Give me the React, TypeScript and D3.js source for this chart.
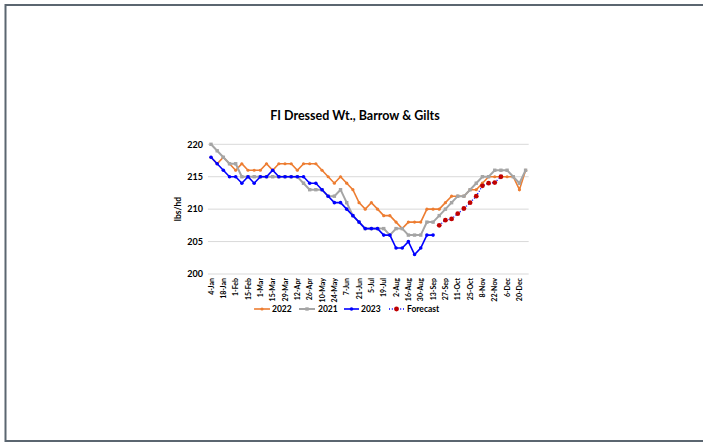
import React from "react";
import * as d3 from "d3";

const weekLabels = [
  "4-Jan","11-Jan","18-Jan","25-Jan","1-Feb","8-Feb","15-Feb","22-Feb","1-Mar","8-Mar","15-Mar","22-Mar","29-Mar","5-Apr",
  "12-Apr","19-Apr","26-Apr","3-May","10-May","17-May","24-May","31-May","7-Jun","14-Jun","21-Jun","28-Jun","5-Jul","12-Jul",
  "19-Jul","26-Jul","2-Aug","9-Aug","16-Aug","23-Aug","30-Aug","6-Sep","13-Sep","20-Sep","27-Sep","4-Oct","11-Oct","18-Oct",
  "25-Oct","1-Nov","8-Nov","15-Nov","22-Nov","29-Nov","6-Dec","13-Dec","20-Dec","27-Dec"
];

const s2022 = [218,217,218,217,216,217,216,216,216,217,216,217,217,217,216,217,217,217,216,215,214,215,214,213,211,210,211,210,209,209,208,207,208,208,208,210,210,210,211,212,212,212,213,213,214,215,215,215,215,215,213,216];
const s2021 = [220,219,218,217,217,215,215,215,215,215,215,215,215,215,215,214,213,213,213,212,212,213,211,209,208,207,207,207,207,206,207,207,206,206,206,208,208,209,210,211,212,212,213,214,215,215,216,216,216,215,214,216];
const s2023 = [218,217,216,215,215,214,215,214,215,215,216,215,215,215,215,215,214,214,213,212,211,211,210,209,208,207,207,207,206,206,204,204,205,203,204,206,206];
const forecastStart = 37;
const sForecast = [207.5,208.3,208.5,209.3,210.1,211.0,212.0,213.6,214.0,214.1,215.0];

const yTicks = [200,205,210,215,220];

const FONT = "Lato, 'Liberation Sans', sans-serif";

export default function App() {
  const W = 703, H = 445;
  const x = d3.scaleLinear().domain([0, weekLabels.length - 1]).range([211, 525.6]);
  const y = d3.scaleLinear().domain([200, 220]).range([274, 144.3]);
  const half = (x(1) - x(0)) / 2;
  const line = d3.line<[number, number]>().x(d => x(d[0])).y(d => y(d[1]));

  const p2022 = s2022.map((v, i) => [i, v] as [number, number]);
  const p2021 = s2021.map((v, i) => [i, v] as [number, number]);
  const p2023 = s2023.map((v, i) => [i, v] as [number, number]);
  const pF = sForecast.map((v, i) => [i + forecastStart, v] as [number, number]);

  const orange = "#ED7D31", gray = "#A5A5A5", blue = "#0000FF", red = "#C00000";

  const legendY = 309;
  return (
    <svg width={W} height={H} style={{ position: "absolute", left: 0, top: 0, background: "#fff" }}>
      <rect x={5.5} y={5} width={W + 10} height={436} fill="none" stroke="#5b6670" strokeWidth={2} />
      <text x={355} y={120} textAnchor="middle" fontFamily={FONT} fontWeight={700} fontSize={12.5} fill="#000">
        FI Dressed Wt., Barrow &amp; Gilts
      </text>
      <text transform={`translate(181,209) rotate(-90)`} textAnchor="middle" fontFamily={FONT} fontWeight={700} fontSize={8.5} fill="#000">
        lbs/hd
      </text>
      {yTicks.map(t => (
        <g key={t}>
          <line x1={x(0) - half} x2={x(51) + half} y1={y(t)} y2={y(t)} stroke="#D9D9D9" strokeWidth={1} />
          <text x={203} y={y(t) + 3.2} textAnchor="end" fontFamily={FONT} fontWeight={700} fontSize={9} fill="#000">{t}</text>
        </g>
      ))}
      {weekLabels.map((l, i) => i % 2 === 0 ? (
        <text key={l} transform={`translate(${x(i) + 2.5},278) rotate(-90)`} textAnchor="end" fontFamily={FONT} fontWeight={700} fontSize={7} fill="#000">{l}</text>
      ) : null)}
      <path d={line(p2022)!} fill="none" stroke={orange} strokeWidth={1.6} />
      {p2022.map(([i, v]) => <circle key={"o" + i} cx={x(i)} cy={y(v)} r={1.6} fill={orange} />)}
      <path d={line(p2021)!} fill="none" stroke={gray} strokeWidth={2} />
      {p2021.map(([i, v]) => <rect key={"g" + i} x={x(i) - 1.7} y={y(v) - 1.7} width={3.4} height={3.4} fill={gray} />)}
      <path d={line(p2023)!} fill="none" stroke={blue} strokeWidth={1.6} />
      {p2023.map(([i, v]) => <circle key={"b" + i} cx={x(i)} cy={y(v)} r={1.8} fill={blue} />)}
      <path d={line(pF)!} fill="none" stroke={blue} strokeWidth={1.3} strokeDasharray="1,1.8" />
      {pF.map(([i, v]) => <circle key={"f" + i} cx={x(i)} cy={y(v)} r={2.4} fill={red} />)}

      <g fontFamily={FONT} fontWeight={700} fontSize={8.5} fill="#000">
        <line x1={254} x2={270} y1={legendY} y2={legendY} stroke={orange} strokeWidth={1.6} />
        <circle cx={262} cy={legendY} r={1.6} fill={orange} />
        <text x={272} y={legendY + 3}>2022</text>
        <line x1={299} x2={315} y1={legendY} y2={legendY} stroke={gray} strokeWidth={2} />
        <rect x={305.3} y={legendY - 1.7} width={3.4} height={3.4} fill={gray} />
        <text x={318} y={legendY + 3}>2021</text>
        <line x1={344} x2={359} y1={legendY} y2={legendY} stroke={blue} strokeWidth={1.6} />
        <circle cx={351.5} cy={legendY} r={1.8} fill={blue} />
        <text x={361} y={legendY + 3}>2023</text>
        <line x1={389} x2={404} y1={legendY} y2={legendY} stroke={blue} strokeWidth={1.3} strokeDasharray="1,1.8" />
        <circle cx={396.5} cy={legendY} r={2.4} fill={red} />
        <text x={407} y={legendY + 3}>Forecast</text>
      </g>
    </svg>
  );
}
